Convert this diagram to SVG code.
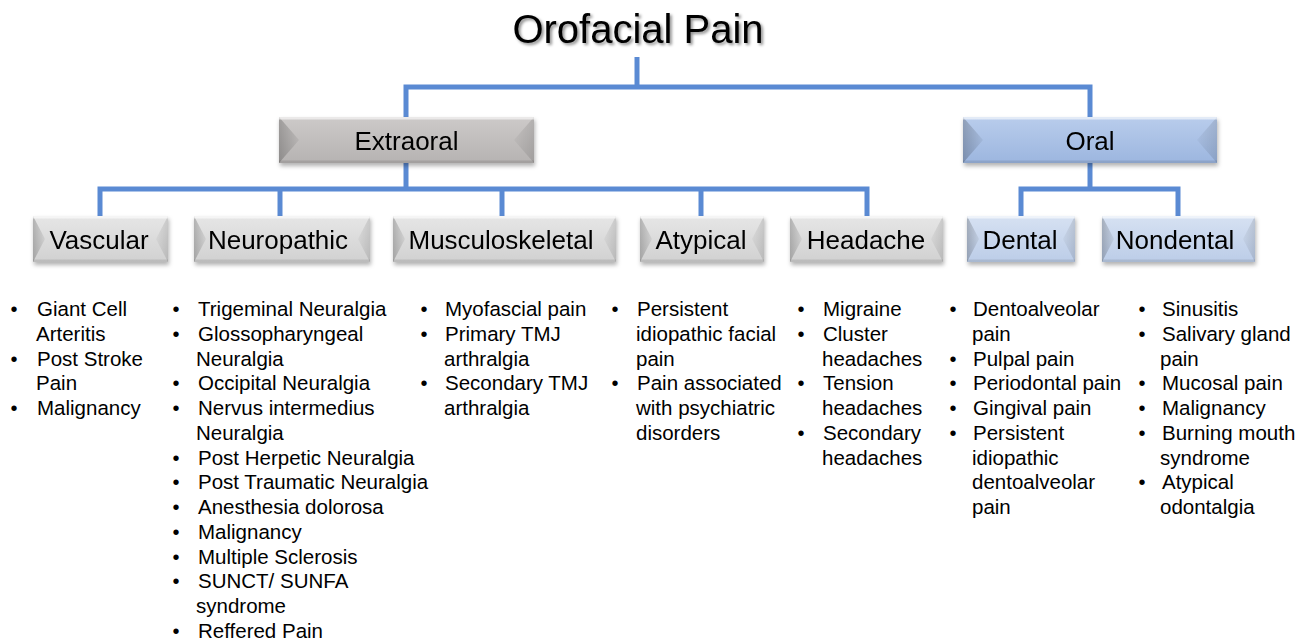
<svg xmlns="http://www.w3.org/2000/svg" width="1307" height="641" viewBox="0 0 1307 641">
<style>
text{font-family:"Liberation Sans",Arial,sans-serif;fill:#000}
.title{font-size:40px;text-anchor:middle}
.lbl{font-size:26px;text-anchor:middle}
.li{font-size:20.5px}
.bu{font-size:20px;text-anchor:middle}
.conn{fill:none;stroke:#5a8ad3;stroke-width:5;stroke-linejoin:miter;stroke-linecap:butt}
.lf{fill:url(#gL)}
.rf{fill:url(#gR)}
.hi{fill:#fff;fill-opacity:.6}
.lo{fill:#000;fill-opacity:.1}
.gray1{fill:url(#gExt)}
.gray2{fill:url(#gSub)}
.blue1{fill:url(#gOral)}
.blue2{fill:url(#gDen)}
</style>
<defs>
<filter id="ts" x="-10%" y="-30%" width="120%" height="160%"><feDropShadow dx="2" dy="2" stdDeviation="1.6" flood-color="#000" flood-opacity="0.45"/></filter>
<filter id="bs" x="-10%" y="-20%" width="120%" height="150%"><feDropShadow dx="1" dy="3" stdDeviation="2" flood-color="#000" flood-opacity="0.3"/></filter>
<linearGradient id="gExt" x1="0" y1="0" x2="0" y2="1"><stop offset="0" stop-color="#cdcac9"/><stop offset="1" stop-color="#b6b3b2"/></linearGradient>
<linearGradient id="gSub" x1="0" y1="0" x2="0" y2="1"><stop offset="0" stop-color="#e6e6e6"/><stop offset="1" stop-color="#d1d1d1"/></linearGradient>
<linearGradient id="gOral" x1="0" y1="0" x2="0" y2="1"><stop offset="0" stop-color="#b9cdec"/><stop offset="1" stop-color="#9cb6df"/></linearGradient>
<linearGradient id="gDen" x1="0" y1="0" x2="0" y2="1"><stop offset="0" stop-color="#d6e1f2"/><stop offset="1" stop-color="#bccde8"/></linearGradient>
<linearGradient id="gL" x1="0" y1="0" x2="1" y2="0"><stop offset="0" stop-color="#000" stop-opacity="0.22"/><stop offset="1" stop-color="#000" stop-opacity="0.05"/></linearGradient>
<linearGradient id="gR" x1="1" y1="0" x2="0" y2="0"><stop offset="0" stop-color="#000" stop-opacity="0.12"/><stop offset="1" stop-color="#000" stop-opacity="0.03"/></linearGradient>
</defs>
<rect width="1307" height="641" fill="#fff"/>

<g id="connectors">
<path class="conn" d="M637,57 V87"/>
<path class="conn" d="M406,117 V87 H1090 V117"/>
<path class="conn" d="M406,163 V189"/>
<path class="conn" d="M100,216 V189 H867 V216"/>
<path class="conn" d="M280,189 V216"/>
<path class="conn" d="M502,189 V216"/>
<path class="conn" d="M701,189 V216"/>
<path class="conn" d="M1090,163 V189"/>
<path class="conn" d="M1021,216 V189 H1178 V216"/>
</g>

<g id="title"><text class="title" x="638" y="43" filter="url(#ts)">Orofacial Pain</text></g>

<g id="extraoral" filter="url(#bs)">
<rect class="gray1" x="279" y="117" width="255" height="46"/>
<polygon class="lf" points="279,117 299,140 279,163"/>
<polygon class="rf" points="534,117 514,140 534,163"/>
<rect class="hi" x="279" y="117" width="255" height="2.5"/>
<rect class="lo" x="279" y="160.5" width="255" height="2.5"/>
<text class="lbl" x="406.5" y="150">Extraoral</text>
</g>
<g id="oral" filter="url(#bs)">
<rect class="blue1" x="963" y="117" width="254" height="46"/>
<polygon class="lf" points="963,117 983,140 963,163"/>
<polygon class="rf" points="1217,117 1197,140 1217,163"/>
<rect class="hi" x="963" y="117" width="254" height="2.5"/>
<rect class="lo" x="963" y="160.5" width="254" height="2.5"/>
<text class="lbl" x="1090" y="150">Oral</text>
</g>

<g id="vascular" filter="url(#bs)">
<rect class="gray2" x="33" y="216" width="135" height="46"/>
<polygon class="lf" points="33,216 45,239 33,262"/>
<polygon class="rf" points="168,216 156,239 168,262"/>
<rect class="hi" x="33" y="216" width="135" height="2.5"/>
<rect class="lo" x="33" y="259.5" width="135" height="2.5"/>
<text class="lbl" x="99" y="249">Vascular</text>
</g>
<g id="neuropathic" filter="url(#bs)">
<rect class="gray2" x="194" y="216" width="176" height="46"/>
<polygon class="lf" points="194,216 206,239 194,262"/>
<polygon class="rf" points="370,216 358,239 370,262"/>
<rect class="hi" x="194" y="216" width="176" height="2.5"/>
<rect class="lo" x="194" y="259.5" width="176" height="2.5"/>
<text class="lbl" x="278" y="249">Neuropathic</text>
</g>
<g id="musculoskeletal" filter="url(#bs)">
<rect class="gray2" x="393" y="216" width="223" height="46"/>
<polygon class="lf" points="393,216 405,239 393,262"/>
<polygon class="rf" points="616,216 604,239 616,262"/>
<rect class="hi" x="393" y="216" width="223" height="2.5"/>
<rect class="lo" x="393" y="259.5" width="223" height="2.5"/>
<text class="lbl" x="501" y="249">Musculoskeletal</text>
</g>
<g id="atypical" filter="url(#bs)">
<rect class="gray2" x="640" y="216" width="124" height="46"/>
<polygon class="lf" points="640,216 652,239 640,262"/>
<polygon class="rf" points="764,216 752,239 764,262"/>
<rect class="hi" x="640" y="216" width="124" height="2.5"/>
<rect class="lo" x="640" y="259.5" width="124" height="2.5"/>
<text class="lbl" x="701" y="249">Atypical</text>
</g>
<g id="headache" filter="url(#bs)">
<rect class="gray2" x="790" y="216" width="153" height="46"/>
<polygon class="lf" points="790,216 802,239 790,262"/>
<polygon class="rf" points="943,216 931,239 943,262"/>
<rect class="hi" x="790" y="216" width="153" height="2.5"/>
<rect class="lo" x="790" y="259.5" width="153" height="2.5"/>
<text class="lbl" x="866" y="249">Headache</text>
</g>
<g id="dental" filter="url(#bs)">
<rect class="blue2" x="967" y="216" width="108" height="46"/>
<polygon class="lf" points="967,216 979,239 967,262"/>
<polygon class="rf" points="1075,216 1063,239 1075,262"/>
<rect class="hi" x="967" y="216" width="108" height="2.5"/>
<rect class="lo" x="967" y="259.5" width="108" height="2.5"/>
<text class="lbl" x="1020" y="249">Dental</text>
</g>
<g id="nondental" filter="url(#bs)">
<rect class="blue2" x="1102" y="216" width="153" height="46"/>
<polygon class="lf" points="1102,216 1114,239 1102,262"/>
<polygon class="rf" points="1255,216 1243,239 1255,262"/>
<rect class="hi" x="1102" y="216" width="153" height="2.5"/>
<rect class="lo" x="1102" y="259.5" width="153" height="2.5"/>
<text class="lbl" x="1175" y="249">Nondental</text>
</g>

<g id="list-vascular">
<text class="bu"><tspan x="14" y="316">•</tspan><tspan x="14" y="365.5">•</tspan><tspan x="14" y="415">•</tspan></text>
<text class="li"><tspan x="37" y="316">Giant Cell</tspan><tspan x="36" y="340.75">Arteritis</tspan><tspan x="37" y="365.5">Post Stroke</tspan><tspan x="36" y="390.25">Pain</tspan><tspan x="37" y="415">Malignancy</tspan></text>
</g>
<g id="list-neuropathic">
<text class="bu"><tspan x="176" y="316">•</tspan><tspan x="176" y="340.75">•</tspan><tspan x="176" y="390.25">•</tspan><tspan x="176" y="415">•</tspan><tspan x="176" y="464.5">•</tspan><tspan x="176" y="489.25">•</tspan><tspan x="176" y="514">•</tspan><tspan x="176" y="538.75">•</tspan><tspan x="176" y="563.5">•</tspan><tspan x="176" y="588.25">•</tspan><tspan x="176" y="637.75">•</tspan></text>
<text class="li"><tspan x="198" y="316">Trigeminal Neuralgia</tspan><tspan x="198" y="340.75">Glossopharyngeal</tspan><tspan x="196" y="365.5">Neuralgia</tspan><tspan x="198" y="390.25">Occipital Neuralgia</tspan><tspan x="198" y="415">Nervus intermedius</tspan><tspan x="196" y="439.75">Neuralgia</tspan><tspan x="198" y="464.5">Post Herpetic Neuralgia</tspan><tspan x="198" y="489.25">Post Traumatic Neuralgia</tspan><tspan x="198" y="514">Anesthesia dolorosa</tspan><tspan x="198" y="538.75">Malignancy</tspan><tspan x="198" y="563.5">Multiple Sclerosis</tspan><tspan x="198" y="588.25">SUNCT/ SUNFA</tspan><tspan x="196" y="613">syndrome</tspan><tspan x="198" y="637.75">Reffered Pain</tspan></text>
</g>
<g id="list-musculoskeletal">
<text class="bu"><tspan x="424" y="316">•</tspan><tspan x="424" y="340.75">•</tspan><tspan x="424" y="390.25">•</tspan></text>
<text class="li"><tspan x="445" y="316">Myofascial pain</tspan><tspan x="445" y="340.75">Primary TMJ</tspan><tspan x="444" y="365.5">arthralgia</tspan><tspan x="445" y="390.25">Secondary TMJ</tspan><tspan x="444" y="415">arthralgia</tspan></text>
</g>
<g id="list-atypical">
<text class="bu"><tspan x="615" y="316">•</tspan><tspan x="615" y="390.25">•</tspan></text>
<text class="li"><tspan x="637" y="316">Persistent</tspan><tspan x="636" y="340.75">idiopathic facial</tspan><tspan x="636" y="365.5">pain</tspan><tspan x="637" y="390.25">Pain associated</tspan><tspan x="636" y="415">with psychiatric</tspan><tspan x="636" y="439.75">disorders</tspan></text>
</g>
<g id="list-headache">
<text class="bu"><tspan x="801" y="316">•</tspan><tspan x="801" y="340.75">•</tspan><tspan x="801" y="390.25">•</tspan><tspan x="801" y="439.75">•</tspan></text>
<text class="li"><tspan x="823" y="316">Migraine</tspan><tspan x="823" y="340.75">Cluster</tspan><tspan x="822" y="365.5">headaches</tspan><tspan x="823" y="390.25">Tension</tspan><tspan x="822" y="415">headaches</tspan><tspan x="823" y="439.75">Secondary</tspan><tspan x="822" y="464.5">headaches</tspan></text>
</g>
<g id="list-dental">
<text class="bu"><tspan x="953" y="316">•</tspan><tspan x="953" y="365.5">•</tspan><tspan x="953" y="390.25">•</tspan><tspan x="953" y="415">•</tspan><tspan x="953" y="439.75">•</tspan></text>
<text class="li"><tspan x="973" y="316">Dentoalveolar</tspan><tspan x="972" y="340.75">pain</tspan><tspan x="973" y="365.5">Pulpal pain</tspan><tspan x="973" y="390.25">Periodontal pain</tspan><tspan x="973" y="415">Gingival pain</tspan><tspan x="973" y="439.75">Persistent</tspan><tspan x="972" y="464.5">idiopathic</tspan><tspan x="972" y="489.25">dentoalveolar</tspan><tspan x="972" y="514">pain</tspan></text>
</g>
<g id="list-nondental">
<text class="bu"><tspan x="1142" y="316">•</tspan><tspan x="1142" y="340.75">•</tspan><tspan x="1142" y="390.25">•</tspan><tspan x="1142" y="415">•</tspan><tspan x="1142" y="439.75">•</tspan><tspan x="1142" y="489.25">•</tspan></text>
<text class="li"><tspan x="1162" y="316">Sinusitis</tspan><tspan x="1162" y="340.75">Salivary gland</tspan><tspan x="1160" y="365.5">pain</tspan><tspan x="1162" y="390.25">Mucosal pain</tspan><tspan x="1162" y="415">Malignancy</tspan><tspan x="1162" y="439.75">Burning mouth</tspan><tspan x="1160" y="464.5">syndrome</tspan><tspan x="1162" y="489.25">Atypical</tspan><tspan x="1160" y="514">odontalgia</tspan></text>
</g>
</svg>
